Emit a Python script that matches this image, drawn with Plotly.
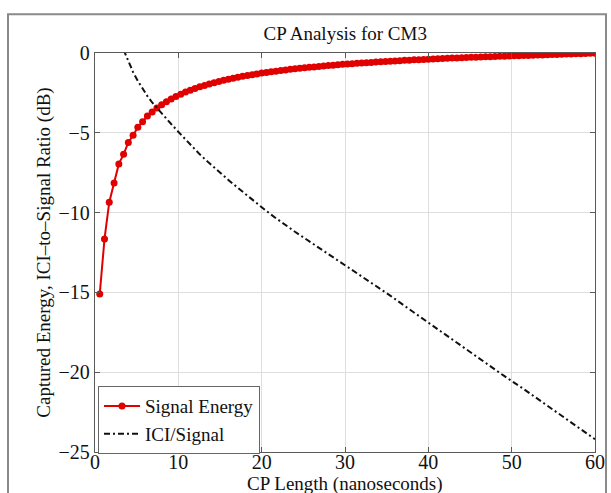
import plotly.graph_objects as go

# CP length grid (ns) used for the captured-energy curve
cp_len = [0.57, 1.14, 1.71, 2.29, 2.86, 3.43, 4.00, 4.57, 5.14, 5.71,
          6.29, 6.86, 7.43, 8.00, 8.57, 9.14, 9.71, 10.29, 10.86, 11.43,
          12.00, 12.57, 13.14, 13.71, 14.29, 14.86, 15.43, 16.00, 16.57, 17.14,
          17.71, 18.29, 18.86, 19.43, 20.00, 20.57, 21.14, 21.71, 22.29, 22.86,
          23.43, 24.00, 24.57, 25.14, 25.71, 26.29, 26.86, 27.43, 28.00, 28.57,
          29.14, 29.71, 30.29, 30.86, 31.43, 32.00, 32.57, 33.14, 33.71, 34.29,
          34.86, 35.43, 36.00, 36.57, 37.14, 37.71, 38.29, 38.86, 39.43, 40.00,
          40.57, 41.14, 41.71, 42.29, 42.86, 43.43, 44.00, 44.57, 45.14, 45.71,
          46.29, 46.86, 47.43, 48.00, 48.57, 49.14, 49.71, 50.29, 50.86, 51.43,
          52.00, 52.57, 53.14, 53.71, 54.29, 54.86, 55.43, 56.00, 56.57, 57.14,
          57.71, 58.29, 58.86, 59.43, 60.00]

# Captured signal energy (dB)
signal_energy = [-15.10, -11.65, -9.35, -8.15, -6.95, -6.35, -5.60, -5.15, -4.65, -4.30,
                 -3.95, -3.70, -3.45, -3.25, -3.05, -2.88, -2.72, -2.58, -2.45, -2.33,
                 -2.22, -2.12, -2.03, -1.94, -1.86, -1.78, -1.71, -1.64, -1.58, -1.52,
                 -1.46, -1.41, -1.36, -1.31, -1.26, -1.22, -1.18, -1.14, -1.10, -1.06,
                 -1.02, -0.99, -0.96, -0.93, -0.90, -0.87, -0.84, -0.81, -0.78, -0.76,
                 -0.73, -0.71, -0.69, -0.67, -0.65, -0.63, -0.61, -0.59, -0.57, -0.55,
                 -0.53, -0.51, -0.50, -0.48, -0.46, -0.45, -0.43, -0.42, -0.40, -0.39,
                 -0.37, -0.36, -0.35, -0.33, -0.32, -0.31, -0.30, -0.28, -0.27, -0.26,
                 -0.25, -0.24, -0.23, -0.22, -0.21, -0.20, -0.19, -0.18, -0.17, -0.16,
                 -0.15, -0.14, -0.13, -0.12, -0.11, -0.10, -0.09, -0.08, -0.07, -0.06,
                 -0.05, -0.04, -0.03, -0.02, -0.01]

# ICI-to-signal ratio (dB)
ici_len = [3.43, 4.00, 4.57, 5.14, 5.71, 6.29, 6.86, 7.43, 8.00, 9.14,
           10.29, 11.43, 12.57, 13.71, 14.86, 16.00, 17.14, 18.29, 19.43, 20.57,
           21.71, 22.86, 24.00, 26.29, 28.57, 30.86, 33.14, 35.43, 37.71, 40.00,
           42.29, 44.57, 46.86, 49.14, 51.43, 53.71, 56.00, 58.29, 60.00]
ici_signal = [0.20, -0.55, -1.20, -1.75, -2.25, -2.70, -3.10, -3.45, -3.80, -4.45,
              -5.10, -5.75, -6.35, -6.90, -7.45, -7.95, -8.45, -8.95, -9.45, -9.90,
              -10.35, -10.80, -11.20, -12.00, -12.80, -13.55, -14.35, -15.20, -16.05, -16.90,
              -17.75, -18.55, -19.40, -20.25, -21.05, -21.90, -22.70, -23.55, -24.20]

x_ticks = [0, 10, 20, 30, 40, 50, 60]
y_ticks = [0, -5, -10, -15, -20, -25]

serif = "Liberation Serif"
ink = "#111111"

fig = go.Figure()
fig.add_trace(go.Scatter(
    x=cp_len, y=signal_energy, name="Signal Energy", mode="lines+markers",
    line=dict(color="#e00000", width=2),
    marker=dict(color="#e00000", size=7, symbol="circle"),
))
fig.add_trace(go.Scatter(
    x=ici_len, y=ici_signal, name="ICI/Signal", mode="lines",
    line=dict(color=ink, width=2, dash="6px,3px,2px,3px"),
))

axis_common = dict(
    showgrid=True, gridcolor="#dedede", gridwidth=1,
    zeroline=False, showline=True, linecolor="#5a5a5a", linewidth=1.3,
    mirror="ticks", ticks="inside", ticklen=5, tickcolor="#5a5a5a",
    tickfont=dict(family=serif, size=20, color=ink),
    automargin=False,
)

fig.update_xaxes(
    range=[0, 60], tickvals=x_ticks, ticktext=[str(v) for v in x_ticks],
    ticklabelstandoff=-8,
    **axis_common,
)
fig.update_yaxes(
    range=[-25, 0], tickvals=y_ticks,
    ticktext=["0", "\u22125", "\u221210", "\u221215", "\u221220", "\u221225"],
    title=dict(text="Captured Energy, ICI\u2013to\u2013Signal Ratio (dB)", standoff=2,
               font=dict(family=serif, size=19, color=ink)),
    **axis_common,
)

fig.update_layout(
    width=611, height=493,
    margin=dict(l=95, r=16, t=53, b=41),
    paper_bgcolor="white", plot_bgcolor="white",
    title=dict(text="CP Analysis for CM3", x=0.565, xanchor="center",
               y=0.932, yanchor="middle",
               font=dict(family=serif, size=19, color=ink)),
    showlegend=True,
    legend=dict(x=0.006, y=0.165, xanchor="left", yanchor="top",
                bgcolor="white", bordercolor="#666666", borderwidth=1,
                font=dict(family=serif, size=19, color=ink),
                tracegroupgap=0, itemwidth=36),
    annotations=[dict(text="CP Length (nanoseconds)", xref="paper", yref="paper",
                      x=0.5, y=-0.081, xanchor="center", yanchor="middle",
                      showarrow=False, font=dict(family=serif, size=19, color=ink))],
    shapes=[dict(type="rect", xref="paper", yref="paper",
                 x0=-0.174, x1=1.022, y0=-0.13, y1=1.097,
                 line=dict(color="#8a8a8a", width=2), fillcolor="rgba(0,0,0,0)",
                 layer="below")],
)

fig.write_html("out.html")
